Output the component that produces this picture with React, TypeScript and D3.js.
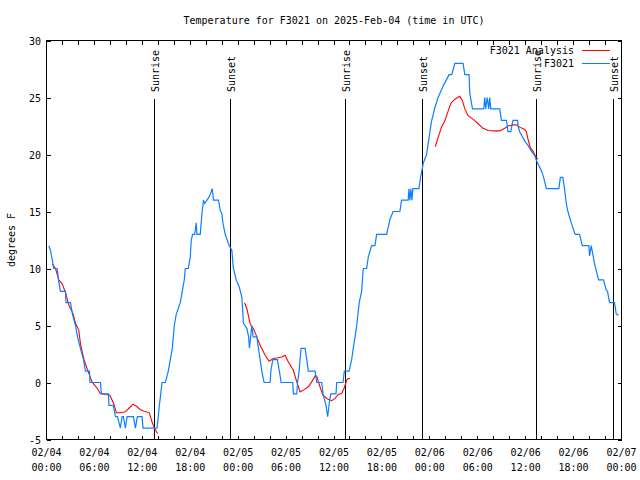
import React from 'react';
import * as d3 from 'd3';

const START = Date.UTC(2025, 1, 4, 0, 0, 0);
const HOURS = 72;

const titleText = 'Temperature for F3021 on 2025-Feb-04 (time in UTC)';
const yLabel = 'degrees F';
const yTicks = [-5, 0, 5, 10, 15, 20, 25, 30];
const seriesNames = ['F3021 Analysis', 'F3021'];

// [hours since 02/04 00:00 UTC, degrees F]
const observed: [number, number][] = [
  [0.29, 12], [0.5, 11.6], [0.84, 10.3], [0.91, 10], [1.34, 10], [1.5, 9], [1.75, 8], [2.38, 8],
  [2.44, 7], [3.0, 7], [3.25, 6], [3.63, 5], [3.88, 4], [4.25, 3], [4.63, 2], [4.88, 1], [5.38, 1],
  [5.44, 0], [6.75, 0], [6.88, -1], [7.75, -1], [7.81, -2], [8.38, -2], [8.63, -3], [8.88, -3],
  [9.25, -4], [9.46, -3], [9.63, -3], [9.88, -4], [10.09, -3], [10.88, -3], [11.13, -4], [11.38, -3],
  [11.96, -3], [12.09, -4], [13.84, -4], [14.0, -3], [14.13, -2], [14.31, -1], [14.46, 0], [14.88, 0],
  [15.06, 0.5], [15.25, 1], [15.5, 2], [15.75, 3], [15.88, 4], [16.0, 5], [16.25, 6], [16.5, 6.5],
  [16.75, 7], [17.0, 8], [17.25, 9], [17.38, 10], [17.75, 10], [18.0, 11], [18.13, 12.5], [18.29, 13],
  [18.56, 13], [18.75, 14], [18.84, 13], [19.25, 13], [19.46, 14.8], [19.66, 16], [19.79, 15.7],
  [20.09, 16], [20.29, 16.2], [20.5, 16.5], [20.75, 17], [20.84, 16.5], [20.91, 16], [21.54, 16],
  [21.75, 15.1], [21.96, 14.8], [22.09, 14], [22.38, 13], [22.88, 12], [23.21, 11.6], [23.38, 10.1],
  [23.75, 9], [24.13, 8.4], [24.46, 7.5], [24.66, 5.2], [25.09, 4.75], [25.31, 4], [25.41, 3],
  [25.56, 4], [25.71, 5], [25.88, 4], [26.34, 4], [26.54, 3], [26.75, 2], [26.96, 1], [27.25, 0],
  [28.0, 0], [28.09, 1], [28.34, 2], [28.91, 2], [29.16, 1], [29.38, 0], [30.84, 0], [30.91, -1],
  [31.34, -1], [31.44, 0], [31.63, 1], [31.75, 2], [31.88, 3], [32.38, 3], [32.59, 2], [32.79, 1],
  [33.63, 1], [33.84, 0], [34.46, 0], [34.63, -1], [35.0, -2], [35.21, -3], [35.41, -1.8], [35.59, -1],
  [36.25, -1], [36.34, 0], [37.13, 0], [37.29, 1], [37.88, 1], [38.21, 2], [38.41, 3], [38.63, 4],
  [38.84, 5], [39.16, 7], [39.46, 8], [39.66, 10], [40.09, 10], [40.29, 11], [40.71, 12], [41.13, 12],
  [41.34, 13], [42.59, 13], [42.79, 13.6], [43.0, 14.3], [43.41, 15], [44.25, 15], [44.46, 16],
  [45.29, 16], [45.38, 17], [45.5, 16], [45.63, 17], [45.75, 16], [45.88, 17], [46.63, 17], [46.84, 18],
  [47.09, 18.9], [47.16, 19.2], [47.59, 20], [47.91, 21.5], [48.21, 22.9], [48.63, 24.1], [49.04, 25],
  [49.66, 26], [50.41, 27], [50.75, 27], [51.13, 28], [52.16, 28], [52.38, 27], [52.91, 27], [53.0, 25.4],
  [53.34, 24], [54.75, 24], [54.88, 25], [55.0, 24], [55.19, 25], [55.38, 24], [55.5, 25], [55.63, 24],
  [56.75, 24], [56.96, 23], [57.59, 23], [57.79, 22], [58.13, 22], [58.41, 23], [59.0, 23], [59.04, 22.5],
  [59.25, 22], [59.88, 21.2], [60.29, 20.8], [60.71, 20.3], [61.13, 19.9], [61.34, 19.5], [61.66, 19],
  [61.96, 18.6], [62.25, 18], [62.59, 17], [64.16, 17], [64.34, 18], [64.66, 18], [64.88, 16.9],
  [65.09, 15.7], [65.29, 15], [65.71, 14], [66.13, 13.1], [66.25, 13], [66.75, 13], [67.09, 12],
  [67.91, 12], [68.0, 11.1], [68.21, 12], [68.63, 10.4], [68.84, 9.8], [69.13, 9], [69.75, 9],
  [70.09, 8.1], [70.25, 8], [70.5, 7], [71.13, 7], [71.34, 6], [71.63, 5.9],
];

const analysisNight1: [number, number][] = [
  [0.71, 10.4], [1.13, 10.0], [1.54, 9.0], [1.96, 8.66], [2.38, 7.9], [2.79, 6.8], [3.34, 6.0],
  [3.63, 5.2], [4.04, 4.6], [4.25, 3.4], [4.66, 2.1], [5.09, 1.2], [5.71, 0.05], [6.34, -0.5],
  [6.75, -0.96], [7.38, -1.05], [7.91, -1.1], [8.41, -1.84], [8.75, -2.66], [9.25, -2.66],
  [9.88, -2.57], [10.29, -2.28], [10.84, -1.9], [11.34, -2.13], [11.75, -2.4], [12.16, -2.5],
  [12.88, -2.66], [13.21, -3.45], [13.5, -4.0], [13.75, -4.3], [13.91, -4.46],
];

const analysisNight2: [number, number][] = [
  [24.79, 7.0], [25.09, 6.47], [25.5, 5.16], [25.91, 4.72], [26.34, 4.0], [26.75, 3.26],
  [27.38, 2.39], [27.88, 1.86], [28.41, 2.1], [28.84, 2.15], [29.46, 2.24], [29.88, 2.39],
  [30.29, 1.8], [30.91, 1.07], [31.34, 0.05], [31.75, -0.82], [32.16, -0.67], [32.79, -0.38],
  [33.21, 0.05], [33.63, 0.58], [33.84, 0.55], [34.25, -0.38], [34.59, -1.1], [35.09, -1.4],
  [35.71, -1.6], [36.13, -1.4], [36.54, -1.05], [36.96, -0.96], [37.25, -0.52], [37.59, 0.2],
  [37.79, 0.35], [38.0, 0.35],
];

const analysisNight3: [number, number][] = [
  [48.69, 20.7], [49.04, 21.5], [49.46, 22.4], [49.88, 22.95], [50.29, 23.8], [50.63, 24.5],
  [51.13, 24.85], [51.75, 25.1], [52.09, 24.7], [52.38, 24.0], [52.79, 23.4], [53.41, 23.1],
  [54.04, 22.7], [54.66, 22.3], [55.29, 22.1], [56.13, 22.07], [56.75, 22.07], [57.38, 22.3],
  [57.79, 22.5], [58.41, 22.6], [58.84, 22.6], [59.25, 22.4], [59.88, 22.2], [60.09, 22.0],
  [60.29, 21.35], [60.59, 20.6], [60.91, 20.3], [61.13, 20.0], [61.34, 19.7], [61.54, 19.6],
];

const sunLabels = ['Sunrise', 'Sunset', 'Sunrise', 'Sunset', 'Sunrise', 'Sunset'];
const sunHours = [13.5, 23.0, 37.42, 47.03, 61.38, 71.05];

const FONT = "'DejaVu Sans Mono', monospace";
const RED = '#ff0000';
const BLUE = '#0a80ff';

export default function App() {
  const toDate = (h: number) => new Date(START + h * 3600e3);
  const x = d3.scaleUtc().domain([toDate(0), toDate(HOURS)]).range([46.5, 621.5]);
  const y = d3.scaleLinear().domain([-5, 30]).range([439.5, 40.5]);
  const line = d3
    .line<[number, number]>()
    .x((d) => x(toDate(d[0])))
    .y((d) => y(d[1]));

  const major = x.ticks(d3.utcHour.every(6) as any);
  const minor = x.ticks(d3.utcHour.every(2) as any);
  const fmtDate = d3.utcFormat('%m/%d');
  const fmtTime = d3.utcFormat('%H:%M');
  const [x0, x1] = x.range();
  const [y0, y1] = y.range();

  return (
    <svg
      width={640}
      height={480}
      style={{ position: 'absolute', left: 0, top: 0, background: '#fff' }}
      fontFamily={FONT}
      fontSize={10}
    >
      <rect x={0} y={0} width={640} height={480} fill="#fff" />
      <text x={334} y={24} textAnchor="middle" fill="#000">
        {titleText}
      </text>
      <text transform="translate(15,240) rotate(-90)" textAnchor="middle" fill="#000">
        {yLabel}
      </text>

      {/* ticks */}
      <g shapeRendering="crispEdges" stroke="#000">
        {yTicks.map((t) => (
          <g key={t}>
            <line x1={x0} x2={x0 + 4} y1={Math.round(y(t)) + 0.5} y2={Math.round(y(t)) + 0.5} />
            <line x1={x1} x2={x1 - 4} y1={Math.round(y(t)) + 0.5} y2={Math.round(y(t)) + 0.5} />
          </g>
        ))}
        {minor.map((t, i) => {
          const px = Math.round(x(t) - 0.5) + 0.5;
          const len = 4;
          return (
            <g key={i}>
              <line x1={px} x2={px} y1={y0} y2={y0 - len} />
              <line x1={px} x2={px} y1={y1} y2={y1 + len} />
            </g>
          );
        })}
      </g>
      {yTicks.map((t) => (
        <text key={t} x={41} y={y(t) + 4} textAnchor="end" fill="#000">
          {t}
        </text>
      ))}
      {major.map((t, i) => (
        <g key={i}>
          <text x={x(t)} y={456} textAnchor="middle" fill="#000">
            {fmtDate(t)}
          </text>
          <text x={x(t)} y={471} textAnchor="middle" fill="#000">
            {fmtTime(t)}
          </text>
        </g>
      ))}

      {/* sunrise / sunset */}
      {sunHours.map((h, i) => {
        const px = Math.round(x(toDate(h)) - 0.5) + 0.5;
        return (
          <g key={i}>
            <line x1={px} x2={px} y1={99} y2={y0} stroke="#000" shapeRendering="crispEdges" />
            <text transform={`translate(${px + 4},92) rotate(-90)`} textAnchor="start" fill="#000">
              {sunLabels[i]}
            </text>
          </g>
        );
      })}

      {/* data */}
      {[analysisNight1, analysisNight2, analysisNight3].map((seg, i) => (
        <path key={i} d={line(seg) || ''} fill="none" stroke={RED} strokeWidth={1.1} />
      ))}
      <path d={line(observed) || ''} fill="none" stroke={BLUE} strokeWidth={1.2} />

      {/* legend */}
      <text x={574} y={54} textAnchor="end" fill="#000">
        {seriesNames[0]}
      </text>
      <line x1={582} x2={610} y1={50.5} y2={50.5} stroke={RED} shapeRendering="crispEdges" />
      <text x={574} y={67} textAnchor="end" fill="#000">
        {seriesNames[1]}
      </text>
      <line x1={582} x2={610} y1={63.5} y2={63.5} stroke={BLUE} shapeRendering="crispEdges" />

      {/* border */}
      <rect
        x={x0}
        y={y1}
        width={x1 - x0}
        height={y0 - y1}
        fill="none"
        stroke="#000"
        shapeRendering="crispEdges"
      />
    </svg>
  );
}
